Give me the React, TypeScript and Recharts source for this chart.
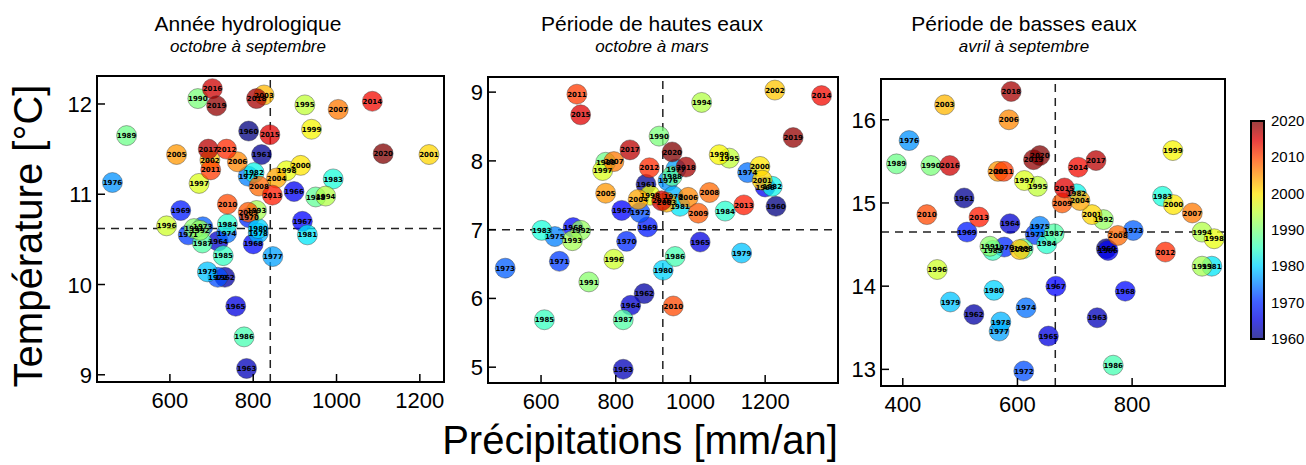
import { ScatterChart, Scatter, XAxis, YAxis, ReferenceLine } from 'recharts';

const YEARS = [
  1960, 1961, 1962, 1963, 1964, 1965, 1966, 1967, 1968, 1969,
  1970, 1971, 1972, 1973, 1974, 1975, 1976, 1977, 1978, 1979,
  1980, 1981, 1982, 1983, 1984, 1985, 1986, 1987, 1988, 1989,
  1990, 1991, 1992, 1993, 1994, 1995, 1996, 1997, 1998, 1999,
  2000, 2001, 2002, 2003, 2004, 2005, 2006, 2007, 2008, 2009,
  2010, 2011, 2012, 2013, 2014, 2015, 2016, 2017, 2018, 2019,
  2020,
];

// année hydrologique (octobre à septembre)
const HYDRO_PRECIP = [
  789, 820, 732, 784, 716, 758, 898, 918, 800, 626,
  790, 644, 715, 679, 736, 788, 462, 847, 812, 690,
  812, 930, 802, 992, 738, 728, 778, 678, 950, 496,
  667, 658, 672, 808, 974, 924, 592, 670, 880, 940,
  914, 1222, 696, 826, 856, 616, 762, 1004, 814, 788,
  738, 698, 736, 846, 1086, 840, 702, 692, 808, 712,
  1112,
];
const HYDRO_TEMP = [
  11.7, 11.44, 10.08, 9.07, 10.48, 9.76, 11.03, 10.7, 10.45, 10.82,
  10.74, 10.55, 10.08, 10.64, 10.57, 11.2, 11.13, 10.31, 10.57, 10.14,
  10.62, 10.55, 11.24, 11.17, 10.67, 10.32, 9.42, 10.46, 10.97, 11.65,
  12.06, 10.62, 10.6, 10.82, 10.98, 11.99, 10.65, 11.12, 11.26, 11.72,
  11.32, 11.44, 11.38, 12.1, 11.18, 11.44, 11.36, 11.94, 11.09, 10.8,
  10.89, 11.27, 11.5, 10.99, 12.03, 11.66, 12.17, 11.5, 12.06, 11.98,
  11.45,
];

// hautes eaux (octobre à mars)
const HIGH_PRECIP = [
  1229, 881, 876, 820, 840, 1026, 1200, 816, 686, 885,
  829, 649, 865, 504, 1153, 637, 940, 961, 954, 1137,
  927, 972, 1219, 602, 1093, 609, 959, 820, 951, 773,
  916, 728, 706, 684, 1030, 1104, 795, 765, 892, 1077,
  1186, 1192, 1226, 936, 860, 773, 994, 795, 1051, 1021,
  954, 696, 890, 1143, 1351, 706, 923, 838, 988, 1275,
  951,
];
const HIGH_TEMP = [
  7.34, 7.66, 6.07, 4.97, 5.9, 6.82, 7.62, 7.28, 7.03, 7.04,
  6.83, 6.54, 7.25, 6.44, 7.83, 6.9, 7.71, 7.88, 7.49, 6.66,
  6.41, 7.34, 7.63, 6.99, 7.27, 5.69, 6.61, 5.69, 7.78, 7.98,
  8.36, 6.24, 6.99, 6.84, 8.85, 8.04, 6.57, 7.86, 7.5, 8.09,
  7.92, 7.72, 9.03, 7.4, 7.44, 7.53, 7.47, 7.99, 7.54, 7.24,
  5.89, 8.97, 7.9, 7.36, 8.95, 8.67, 7.42, 8.16, 7.91, 8.34,
  8.13,
];

// basses eaux (avril à septembre)
const LOW_PRECIP = [
  755, 507, 524, 739, 587, 654, 758, 667, 788, 512,
  577, 631, 611, 802, 615, 639, 411, 568, 571, 483,
  559, 939, 703, 853, 651, 557, 767, 664, 610, 389,
  449, 552, 750, 922, 922, 635, 460, 612, 943, 871,
  872, 730, 604, 473, 709, 566, 585, 905, 775, 678,
  442, 576, 858, 533, 706, 682, 482, 737, 589, 628,
  639,
];
const LOW_TEMP = [
  14.45, 15.06, 13.66, 13.62, 14.75, 13.4, 14.43, 14.0, 13.94, 14.65,
  14.47, 14.62, 12.98, 14.67, 13.74, 14.72, 15.75, 13.46, 13.57, 13.81,
  13.95, 14.24, 15.11, 15.08, 14.51, 14.43, 13.05, 14.63, 14.45, 15.47,
  15.45, 14.48, 14.8, 14.24, 14.65, 15.2, 14.2, 15.27, 14.57, 15.63,
  14.98, 14.86, 14.44, 16.18, 15.03, 15.38, 16.0, 14.88, 14.61, 15.0,
  14.86, 15.38, 14.41, 14.83, 15.43, 15.18, 15.45, 15.51, 16.34, 15.52,
  15.57,
];

const COLORBAR_TICKS = [2020, 2010, 2000, 1990, 1980, 1970, 1960];

// matplotlib "jet"
const JET_R = [[0, 0], [0.35, 0], [0.66, 1], [0.89, 1], [1, 0.5]];
const JET_G = [[0, 0], [0.125, 0], [0.375, 1], [0.64, 1], [0.91, 0], [1, 0]];
const JET_B = [[0, 0.5], [0.11, 1], [0.34, 1], [0.65, 0], [1, 0]];

const interp = (pts: number[][], t: number) => {
  for (let i = 1; i < pts.length; i++) {
    if (t <= pts[i][0]) {
      const [x0, y0] = pts[i - 1];
      const [x1, y1] = pts[i];
      return y0 + ((t - x0) / (x1 - x0)) * (y1 - y0);
    }
  }
  return pts[pts.length - 1][1];
};

const jet = (year: number) => {
  const t = Math.min(1, Math.max(0, (year - 1960) / 60));
  const c = (v: number) => Math.round(v * 255);
  return `rgb(${c(interp(JET_R, t))},${c(interp(JET_G, t))},${c(interp(JET_B, t))})`;
};

const FONT = '"Liberation Sans", Arial, sans-serif';

const Bubble = (props: any) => {
  const { cx, cy, payload } = props;
  return (
    <circle cx={cx} cy={cy} r={10} fill={jet(payload.year)} fillOpacity={0.75}
      stroke="#333" strokeOpacity={0.5} strokeWidth={0.8} />
  );
};

const YearLabel = (props: any) => {
  const { cx, cy, payload } = props;
  return (
    <text x={cx} y={cy} dy={2.6} textAnchor="middle" fontSize={7} fontWeight="bold"
      fontFamily='"DejaVu Sans", sans-serif' fill="#000">
      {payload.year}
    </text>
  );
};

const XTick = (props: any) => {
  const { x, y, payload } = props;
  return (
    <g>
      <line x1={x} x2={x} y1={y} y2={y - 8} stroke="#000" strokeWidth={1.5} />
      <text x={x} y={y + 26} textAnchor="middle" fontSize={22} fontFamily={FONT} fill="#000">
        {payload.value}
      </text>
    </g>
  );
};

const YTick = (props: any) => {
  const { x, y, payload } = props;
  return (
    <g>
      <line x1={x} x2={x + 8} y1={y} y2={y} stroke="#000" strokeWidth={1.5} />
      <text x={x - 5} y={y + 8} textAnchor="end" fontSize={22} fontFamily={FONT} fill="#000">
        {payload.value}
      </text>
    </g>
  );
};

interface PanelProps {
  left: number;
  top: number;
  w: number;
  h: number;
  precip: number[];
  temp: number[];
  xDomain: [number, number];
  yDomain: [number, number];
  xTicks: number[];
  yTicks: number[];
  meanX: number;
  meanY: number;
}

const Panel = ({ left, top, w, h, precip, temp, xDomain, yDomain, xTicks, yTicks, meanX, meanY }: PanelProps) => {
  const data = YEARS.map((year, i) => ({ x: precip[i], y: temp[i], year }));
  return (
    <>
      <div style={{ position: 'absolute', left: left - 50, top: top - 5 }}>
        <ScatterChart width={50 + w + 5} height={5 + h + 40} margin={{ top: 5, right: 5, left: 0, bottom: 0 }}>
          <XAxis type="number" dataKey="x" domain={xDomain} ticks={xTicks} allowDataOverflow interval={0}
            axisLine={false} tickLine={false} tickSize={0} tickMargin={0} height={40} tick={<XTick />} />
          <YAxis type="number" dataKey="y" domain={yDomain} ticks={yTicks} allowDataOverflow interval={0}
            axisLine={false} tickLine={false} tickSize={0} tickMargin={0} width={50} tick={<YTick />} />
          <ReferenceLine x={meanX} stroke="#222" strokeWidth={1.5} strokeDasharray="8 6" />
          <ReferenceLine y={meanY} stroke="#222" strokeWidth={1.5} strokeDasharray="8 6" />
          <Scatter data={data} shape={<Bubble />} isAnimationActive={false} />
          <Scatter data={data} shape={<YearLabel />} isAnimationActive={false} />
        </ScatterChart>
      </div>
      <div style={{
        position: 'absolute', left: left - 1, top: top - 1, width: w + 2, height: h + 2,
        border: '2px solid #000', boxSizing: 'border-box', pointerEvents: 'none',
      }} />
    </>
  );
};

const Title = ({ cx, title, sub }: { cx: number; title: string; sub: string }) => (
  <>
    <div style={{ position: 'absolute', left: cx - 200, width: 400, top: 12, textAlign: 'center', fontSize: 21, lineHeight: '24px' }}>
      {title}
    </div>
    <div style={{ position: 'absolute', left: cx - 200, width: 400, top: 37, textAlign: 'center', fontSize: 17, fontStyle: 'italic', lineHeight: '20px' }}>
      {sub}
    </div>
  </>
);

const gradient = () => {
  const stops: string[] = [];
  for (let k = 0; k <= 12; k++) {
    const yr = 1960 + k * 5;
    stops.push(`${jet(yr)} ${(k / 12) * 100}%`);
  }
  return `linear-gradient(to top, ${stops.join(', ')})`;
};

export default function App() {
  const cbTop = 121;
  const cbH = 218;
  return (
    <div style={{ position: 'absolute', left: 0, top: 0, width: 1306, height: 465, background: '#fff', fontFamily: FONT, color: '#000', overflow: 'hidden' }}>
      <Title cx={248} title="Année hydrologique" sub="octobre à septembre" />
      <Title cx={652} title="Période de hautes eaux" sub="octobre à mars" />
      <Title cx={1024} title="Période de basses eaux" sub="avril à septembre" />

      <Panel left={97} top={76} w={347} h={306} precip={HYDRO_PRECIP} temp={HYDRO_TEMP}
        xDomain={[425, 1258]} yDomain={[8.92, 12.31]} xTicks={[600, 800, 1000, 1200]} yTicks={[9, 10, 11, 12]}
        meanX={841} meanY={10.62} />
      <Panel left={488} top={77} w={350} h={306} precip={HIGH_PRECIP} temp={HIGH_TEMP}
        xDomain={[458, 1395]} yDomain={[4.77, 9.22]} xTicks={[600, 800, 1000, 1200]} yTicks={[5, 6, 7, 8, 9]}
        meanX={926} meanY={7.0} />
      <Panel left={881} top={79} w={344} h={307} precip={LOW_PRECIP} temp={LOW_TEMP}
        xDomain={[362, 962]} yDomain={[12.8, 16.49]} xTicks={[400, 600, 800]} yTicks={[13, 14, 15, 16]}
        meanX={666} meanY={14.65} />

      <div style={{ position: 'absolute', left: 28, top: 236, transform: 'translate(-50%, -50%) rotate(-90deg)', fontSize: 40, whiteSpace: 'nowrap' }}>
        Température [°C]
      </div>
      <div style={{ position: 'absolute', left: 640, top: 440, transform: 'translate(-50%, -50%)', fontSize: 40, whiteSpace: 'nowrap' }}>
        Précipitations [mm/an]
      </div>

      <div style={{ position: 'absolute', left: 1250, top: cbTop - 1, width: 15, height: cbH + 2, border: '2px solid #000', boxSizing: 'border-box', background: '#fff' }}>
        <div style={{ position: 'absolute', inset: 0, background: gradient(), opacity: 0.75 }} />
      </div>
      {COLORBAR_TICKS.map((yr, i) => (
        <div key={yr} style={{ position: 'absolute', left: 1271, top: cbTop + (i * cbH) / 6 - 9, fontSize: 15, lineHeight: '18px' }}>
          {yr}
        </div>
      ))}
    </div>
  );
}
